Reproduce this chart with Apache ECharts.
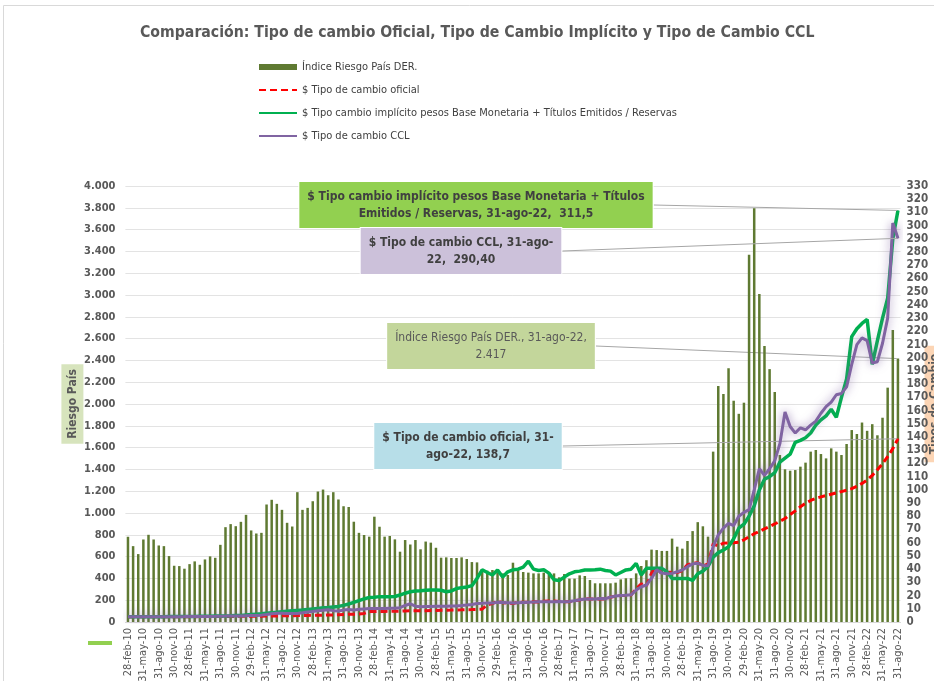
<!DOCTYPE html>
<html>
<head>
<meta charset="utf-8">
<script src="https://cdn.jsdelivr.net/npm/echarts@6/dist/echarts.min.js"></script>
<style>
  html, body { margin: 0; padding: 0; background: #fff; }
  #chart { width: 934px; height: 681px; }
</style>
</head>
<body>
<div id="chart"></div>
<script>
// meses en español, fin de mes desde feb-10 hasta ago-22
const meses = ["ene", "feb", "mar", "abr", "may", "jun", "jul", "ago", "sep", "oct", "nov", "dic"];

// Índice Riesgo País (eje izquierdo)
const riesgoPais = [
  782, 696, 623, 757, 800, 757, 702, 696, 605, 516, 513,            // 2010
  489, 531, 556, 525, 574, 602, 589, 708, 870, 898, 879, 919,       // 2011
  983, 840, 812, 818, 1078, 1121, 1084, 1029, 910, 876, 1191, 1029, // 2012
  1047, 1108, 1197, 1215, 1163, 1191, 1124, 1062, 1055, 920, 818, 798, // 2013
  783, 966, 874, 783, 789, 758, 645, 752, 711, 752, 667, 738,       // 2014
  728, 681, 590, 593, 587, 587, 593, 578, 550, 547, 483, 471,       // 2015
  477, 456, 446, 431, 544, 477, 459, 453, 446, 446, 453, 453,       // 2016
  446, 410, 440, 398, 398, 428, 422, 385, 355, 355, 355, 355,       // 2017
  361, 391, 401, 401, 446, 514, 567, 664, 660, 652, 652, 765,       // 2018
  691, 673, 743, 834, 916, 878, 783, 1563, 2165, 2092, 2328, 2030,  // 2019
  1910, 2012, 3370, 3797, 3009, 2532, 2320, 2110, 1532, 1401, 1388, 1394, // 2020
  1425, 1462, 1563, 1578, 1541, 1501, 1593, 1563, 1532, 1633, 1761, 1725, // 2021
  1830, 1754, 1815, 1713, 1874, 2150, 2679, 2417                    // 2022
];

// $ Tipo de cambio oficial
const oficial = [
  3.86, 3.88, 3.88, 3.91, 3.93, 3.94, 3.95, 3.96, 3.96, 3.98, 3.98,
  4.00, 4.03, 4.05, 4.08, 4.09, 4.11, 4.14, 4.19, 4.20, 4.23, 4.27, 4.30,
  4.35, 4.37, 4.38, 4.42, 4.47, 4.52, 4.60, 4.65, 4.70, 4.76, 4.83, 4.92,
  4.98, 5.05, 5.12, 5.18, 5.28, 5.39, 5.51, 5.67, 5.79, 5.91, 6.13, 6.52,
  8.02, 7.88, 8.00, 8.00, 8.08, 8.13, 8.16, 8.41, 8.43, 8.50, 8.53, 8.55,
  8.64, 8.72, 8.82, 8.90, 8.99, 9.09, 9.19, 9.33, 9.42, 9.52, 9.71, 13.0,
  13.9, 15.8, 14.6, 14.2, 14.0, 15.0, 15.0, 15.0, 15.3, 15.2, 15.8, 15.9,
  15.9, 15.5, 15.4, 15.4, 16.1, 16.6, 17.7, 17.4, 17.3, 17.6, 17.3, 18.8,
  19.6, 20.1, 20.1, 20.5, 25.0, 28.9, 27.3, 37.1, 41.3, 36.3, 37.7, 37.7,
  37.4, 39.0, 43.4, 44.4, 44.9, 42.5, 43.9, 59.1, 57.6, 59.7, 59.9, 59.9,
  60.3, 62.2, 64.5, 66.8, 68.5, 70.5, 72.3, 74.2, 76.2, 78.3, 81.3, 84.1,
  87.3, 89.8, 92.0, 93.6, 94.7, 95.7, 96.7, 97.7, 98.7, 99.7, 100.9, 102.7,
  104.9, 107.5, 110.9, 115.3, 119.8, 125.2, 131.2, 138.7
];

// $ Tipo cambio implícito (Base Monetaria + Títulos / Reservas)
const implicito = [
  3.9, 3.9, 3.95, 3.95, 4.0, 4.0, 4.05, 4.05, 4.1, 4.1, 4.15,
  4.2, 4.2, 4.25, 4.3, 4.35, 4.4, 4.45, 4.5, 4.6, 4.7, 4.85, 5.0,
  5.3, 5.6, 5.9, 6.2, 6.6, 7.0, 7.3, 7.7, 8.1, 8.5, 8.8, 9.1,
  9.5, 9.9, 10.3, 10.7, 11.0, 11.4, 11.8, 12.6, 13.6, 14.8, 16.2, 17.5,
  18.5, 18.8, 19.2, 19.2, 19.2, 19.3, 20.4, 21.8, 22.9, 23.4, 23.6, 24.0,
  24.2, 24.2, 24.0, 22.9, 23.5, 25.3, 26.0, 26.5, 27.5, 33.0, 39.5, 37.5,
  35.6, 39.4, 34.0, 38.0, 39.5, 40.0, 41.5, 46.0, 40.0, 39.0, 39.5, 37.0,
  32.0, 31.3, 34.0, 36.5, 38.0, 38.5, 39.4, 39.4, 39.5, 40.0, 39.0, 38.5,
  35.6, 37.5, 39.4, 40.0, 44.4, 35.6, 40.6, 40.6, 40.6, 40.6, 38.0, 33.0,
  33.0, 33.0, 33.0, 31.5, 36.5, 38.5, 42.0, 49.0, 52.5, 54.5, 57.0, 63.0,
  71, 74, 80, 88, 100, 108, 110, 113, 121, 124, 127, 136,
  137.5, 139.5, 143, 149, 153, 156, 161, 155, 170, 184, 216, 222,
  226, 229, 195, 213, 230, 245, 290, 311.5
];

// $ Tipo de cambio CCL
const ccl = [
  3.95, 3.97, 3.97, 3.98, 4.00, 4.01, 4.02, 4.03, 4.02, 4.04, 4.05,
  4.08, 4.12, 4.13, 4.16, 4.18, 4.22, 4.30, 4.40, 4.45, 4.55, 4.50, 4.60,
  4.8, 5.0, 5.0, 5.2, 5.6, 6.2, 6.6, 6.7, 6.5, 6.4, 6.5, 7.0,
  7.6, 8.0, 8.5, 8.9, 9.3, 8.6, 8.4, 9.0, 9.4, 9.0, 9.6, 9.9,
  10.2, 10.3, 10.3, 10.3, 10.4, 10.4, 10.8, 12.5, 13.8, 12.0, 11.6, 11.7,
  11.8, 11.9, 12.0, 12.0, 12.1, 12.2, 12.4, 12.8, 13.3, 14.0, 14.1, 14.3,
  14.3, 15.0, 14.8, 14.6, 14.3, 14.6, 14.8, 15.0, 15.1, 15.3, 15.4, 15.4,
  15.4, 15.5, 15.4, 15.6, 16.1, 16.8, 17.4, 17.4, 17.5, 17.7, 17.6, 18.8,
  19.7, 20.1, 20.3, 20.6, 24.2, 26.7, 28.0, 33.0, 39.5, 37.0, 36.5, 36.8,
  38.0, 39.4, 41.9, 44.0, 44.5, 42.8, 42.5, 57.0, 66.0, 71.0, 74.7, 73.0,
  80, 83, 85, 100, 116, 111, 116, 122, 135, 159, 148, 143,
  147, 145.5, 149, 152, 158, 163, 166.5, 172, 173, 178, 195, 210,
  215, 213, 196, 197, 211, 230, 302, 290.4
];

const ejeIzq = { min: 0, max: 4000, interval: 200 };
const ejeDer = { min: 0, max: 330, interval: 10 };

// etiquetas de fecha (último día de cada mes)
const categorias = riesgoPais.map((_, k) => {
  const m = (1 + k) % 12;
  const y = 2010 + Math.floor((1 + k) / 12);
  const d = new Date(y, m + 1, 0).getDate();
  return d + "-" + meses[m] + "-" + String(y).slice(2);
});

const FONT = "'Liberation Sans Narrow', 'DejaVu Sans Condensed', 'Open Sans', sans-serif";
const ultimo = riesgoPais.length - 1;
const miles = (v) => String(v).replace(/\B(?=(\d{3})+(?!\d))/g, ".");

// etiqueta de dato sólo en el último punto
function conEtiqueta(arr, label) {
  return arr.map((v, i) => (i === ultimo ? { value: v, symbol: "circle", symbolSize: 1, label: label } : v));
}

function caja(bg, texto, bold) {
  return {
    show: true,
    formatter: texto,
    backgroundColor: bg,
    borderColor: "#ffffff",
    borderWidth: 1,
    padding: [6, 8],
    fontFamily: FONT,
    fontSize: 12,
    lineHeight: 17,
    fontWeight: bold ? "bold" : "normal",
    color: bold ? "#404040" : "#595959",
    align: "center",
  };
}

function mover(x, y) {
  return (params) => {
    if (params.dataIndex !== ultimo) return;
    return { x: x, y: y, align: "center", verticalAlign: "middle" };
  };
}

const guia = { show: true, lineStyle: { color: "#A6A6A6", width: 1 } };

const chart = echarts.init(document.getElementById("chart"), null, { renderer: "canvas" });

const option = {
  animation: false,
  textStyle: { fontFamily: FONT },
  title: {
    text: "Comparación: Tipo de cambio Oficial, Tipo de Cambio Implícito y Tipo de Cambio CCL",
    left: 135,
    top: 20,
    textStyle: { fontFamily: FONT, fontSize: 15.7, fontWeight: "bold", color: "#595959" },
  },
  legend: {
    orient: "vertical",
    left: 253,
    top: 55,
    itemWidth: 38,
    itemHeight: 6,
    itemGap: 9,
    itemStyle: { opacity: 0 },
    textStyle: { fontFamily: FONT, fontSize: 11, lineHeight: 14, color: "#404040" },
    data: [
      { name: "Índice Riesgo País DER.", icon: "rect", itemStyle: { opacity: 1 } },
      "$ Tipo de cambio oficial",
      "$ Tipo cambio implícito pesos Base Monetaria + Títulos Emitidos / Reservas",
      "$ Tipo de cambio CCL",
    ],
  },
  grid: { left: 125.4, right: 33.5, top: 186, bottom: 59, outerBoundsMode: "none", containLabel: false },
  xAxis: {
    type: "category",
    data: categorias,
    boundaryGap: true,
    axisLine: { lineStyle: { color: "#D9D9D9" } },
    axisTick: { show: false },
    axisLabel: {
      interval: 2,
      rotate: 90,
      margin: 6,
      fontFamily: FONT,
      fontSize: 11,
      color: "#595959",
    },
  },
  yAxis: [
    {
      type: "value",
      min: ejeIzq.min,
      max: ejeIzq.max,
      interval: ejeIzq.interval,
      name: "Riesgo País",
      nameLocation: "middle",
      nameGap: 42,
      nameMoveOverlap: false,
      nameRotate: 90,
      nameTextStyle: {
        fontFamily: FONT, fontSize: 12, fontWeight: "bold", color: "#595959",
        backgroundColor: "#D7E4BD", padding: [5, 5, 5, 5],
      },
      axisLine: { show: false },
      axisTick: { show: false },
      axisLabel: { formatter: miles, fontFamily: FONT, fontSize: 11, fontWeight: "bold", color: "#595959", margin: 10 },
      splitLine: { lineStyle: { color: "#E3E3E3", width: 1 } },
    },
    {
      type: "value",
      min: ejeDer.min,
      max: ejeDer.max,
      interval: ejeDer.interval,
      name: "Tipos de Cambio",
      nameLocation: "middle",
      nameGap: 24,
      nameMoveOverlap: false,
      nameRotate: 90,
      nameTextStyle: {
        fontFamily: FONT, fontSize: 12, fontWeight: "bold", color: "#595959",
        backgroundColor: "#FCD5B5", padding: [4, 8, 4, 8],
      },
      axisLine: { show: false },
      axisTick: { show: false },
      axisLabel: { fontFamily: FONT, fontSize: 11.5, fontWeight: "bold", color: "#595959", margin: 6 },
      splitLine: { show: false },
    },
  ],
  series: [
    {
      name: "Índice Riesgo País DER.",
      type: "bar",
      yAxisIndex: 0,
      barWidth: 2.5,
      itemStyle: { color: "#5F7A32" },
      data: conEtiqueta(riesgoPais, caja("#C3D69B", "Índice Riesgo País DER., 31-ago-22,\n" + miles(riesgoPais[ultimo]), false)),
      labelLayout: mover(491, 346),
      labelLine: guia,
      z: 1,
    },
    {
      name: "$ Tipo de cambio oficial",
      type: "line",
      yAxisIndex: 1,
      symbol: "none",
      showAllSymbol: true,
      lineStyle: { color: "#FF0000", width: 3, type: [7, 4] },
      itemStyle: { color: "#FF0000" },
      data: conEtiqueta(oficial, caja("#B7DEE8", "$ Tipo de cambio oficial, 31-\nago-22, " + String(oficial[ultimo]).replace(".", ","), true)),
      labelLayout: mover(468, 446),
      labelLine: guia,
      z: 2,
    },
    {
      name: "$ Tipo cambio implícito pesos Base Monetaria + Títulos Emitidos / Reservas",
      type: "line",
      yAxisIndex: 1,
      symbol: "none",
      showAllSymbol: true,
      lineStyle: { color: "#00B050", width: 3.5 },
      itemStyle: { color: "#00B050" },
      data: conEtiqueta(implicito, caja("#92D050", "$ Tipo cambio implícito pesos Base Monetaria + Títulos\nEmitidos / Reservas, 31-ago-22,  " + String(implicito[ultimo]).replace(".", ","), true)),
      labelLayout: mover(476, 205),
      labelLine: guia,
      z: 3,
    },
    {
      name: "$ Tipo de cambio CCL",
      type: "line",
      yAxisIndex: 1,
      symbol: "none",
      showAllSymbol: true,
      lineStyle: { color: "#8064A2", width: 3, shadowBlur: 10, shadowColor: "rgba(128,100,162,0.75)" },
      itemStyle: { color: "#8064A2" },
      data: conEtiqueta(ccl, caja("#CCC1DA", "$ Tipo de cambio CCL, 31-ago-\n22,  " + ccl[ultimo].toFixed(2).replace(".", ","), true)),
      labelLayout: mover(461, 251),
      labelLine: guia,
      z: 4,
    },
  ],
  graphic: [
    { type: "rect", silent: true, shape: { x: 3.5, y: 5.5, width: 940, height: 700 }, style: { fill: "none", stroke: "#D9D9D9", lineWidth: 1 } },
    { type: "rect", silent: true, shape: { x: 88, y: 641, width: 24, height: 4 }, style: { fill: "#92D050" } },
  ],
};

chart.setOption(option);
</script>
</body>
</html>
